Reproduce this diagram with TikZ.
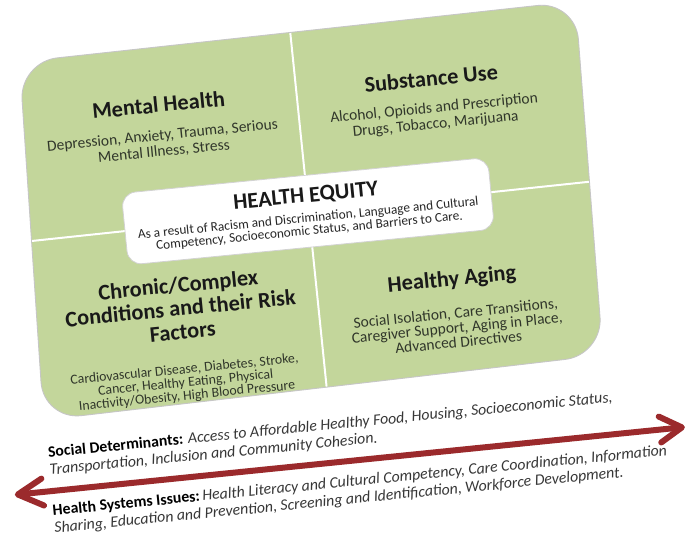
\documentclass[tikz,border=0pt]{standalone}
\usepackage{fontspec}
\setmainfont{Carlito}
\usetikzlibrary{calc}
\definecolor{boxgreen}{RGB}{195,214,155}
\definecolor{arrowred}{RGB}{155,42,44}
\definecolor{desctext}{RGB}{48,54,42}
\definecolor{bottomtext}{RGB}{55,55,55}
\tikzset{
  panelshape/.style={draw=gray!45, line width=0.9pt, fill=boxgreen, rounded corners=38pt},
  equitybox/.style={draw=gray!35, line width=0.8pt, fill=white, rounded corners=14pt,
    minimum width=368pt, minimum height=72pt, inner sep=0pt},
  divider/.style={draw=white, line width=2pt},
  quadtitle/.style={font=\fontsize{22.3}{23.5}\selectfont\bfseries, text=black!90, align=center, inner sep=0pt},
  quaddesc/.style={font=\fontsize{15.5}{16}\selectfont, text=desctext, align=center, inner sep=0pt},
  smalldesc/.style={font=\fontsize{13.8}{13.2}\selectfont, text=desctext, align=center, inner sep=0pt},
  agedesc/.style={font=\fontsize{15.5}{14.6}\selectfont, text=desctext, align=center, inner sep=0pt},
  equitydesc/.style={font=\fontsize{13.3}{12.8}\selectfont, text=black!85, align=center, inner sep=0pt},
  bottomnote/.style={font=\fontsize{15.8}{17.5}\selectfont, text=bottomtext, align=left, inner sep=0pt, anchor=west},
  arrowline/.style={draw=arrowred, line width=6pt, line cap=round, line join=round}
}
\begin{document}
\begin{tikzpicture}[x=1pt,y=1pt]
\useasboundingbox (0,0) rectangle (686,-541);
\fill[white] (0,0) rectangle (686,-541);
\begin{scope}[shift={(310.4,-209.6)}, rotate=5.6, transform shape]
  % main panel (slightly in perspective)
  \coordinate (pTL) at (-275.1,175.3);
  \coordinate (pTR) at (284.1,181.4);
  \coordinate (pBR) at (277,-173.3);
  \coordinate (pBL) at (-286.1,-183.4);
  \draw[panelshape] (pTL) -- (pTR) -- (pBR) -- (pBL) -- cycle;
  \coordinate (dTop) at ($(pTL)!0.487!(pTR)$);
  \coordinate (dBot) at ($(pBL)!0.506!(pBR)$);
  \coordinate (dLeft) at ($(pTL)!0.5!(pBL)$);
  \coordinate (dRight) at ($(pTR)!0.51!(pBR)$);
  \draw[divider] ($(dTop)!0.6pt!(dBot)$) -- ($(dBot)!0.6pt!(dTop)$);
  \draw[divider] ($(dLeft)!0.6pt!(dRight)$) -- ($(dRight)!0.6pt!(dLeft)$);
  % centre box
  \node[equitybox] (equity) at (-2.6,-1.4) {};
  \node[quadtitle] (eqtitle) at (-3.3,13.5) {HEALTH EQUITY};
  \node[equitydesc] (eqdesc) at (-3,-15.2) {As a result of Racism and Discrimination, Language and Cultural\\Competency, Socioeconomic Status, and Barriers to Care.};
  % quadrants
  \node[quadtitle] (mhtitle) at (-141,119.2) {Mental Health};
  \node[quaddesc] (mhdesc) at (-140,80) {Depression, Anxiety, Trauma, Serious\\Mental Illness, Stress};
  \node[quadtitle] (sutitle) at (133,119.2) {Substance Use};
  \node[quaddesc] (sudesc) at (133,80.5) {Alcohol, Opioids and Prescription\\Drugs, Tobacco, Marijuana};
  \node[quadtitle] (cctitle) at (-139,-85.3) {Chronic/Complex\\Conditions and their Risk\\Factors};
  \node[smalldesc] (ccdesc) at (-141,-160.5) {Cardiovascular Disease, Diabetes, Stroke,\\Cancer, Healthy Eating, Physical\\Inactivity/Obesity, High Blood Pressure};
  \node[quadtitle] (hatitle) at (134,-84) {Healthy Aging};
  \node[agedesc] (hadesc) at (134.5,-131.6) {Social Isolation, Care Transitions,\\Caregiver Support, Aging in Place,\\Advanced Directives};
  % bottom notes
  \node[bottomnote] (social) at (-285,-225.5) {\textbf{\color{black}Social Determinants:} \textit{Access to Affordable Healthy Food, Housing, Socioeconomic Status,}\\\textit{Transportation, Inclusion and Community Cohesion.}};
  \node[bottomnote] (systems) at (-286,-284) {\textbf{\color{black}Health Systems Issues:}\,\textit{Health Literacy and Cultural Competency, Care Coordination, Information}\\\textit{Sharing, Education and Prevention, Screening and Identification, Workforce Development.}};
  % double arrow
  \coordinate (arrL) at (-319,-255);
  \coordinate (arrR) at (348.5,-253);
  \draw[arrowline, line cap=butt] (arrL) -- (arrR);
  \draw[arrowline] ($(arrL)+(25,13.5)$) -- (arrL) -- ($(arrL)+(25,-13.5)$);
  \draw[arrowline] ($(arrR)+(-22,13)$) -- (arrR) -- ($(arrR)+(-22,-13)$);
\end{scope}
\end{tikzpicture}
\end{document}
